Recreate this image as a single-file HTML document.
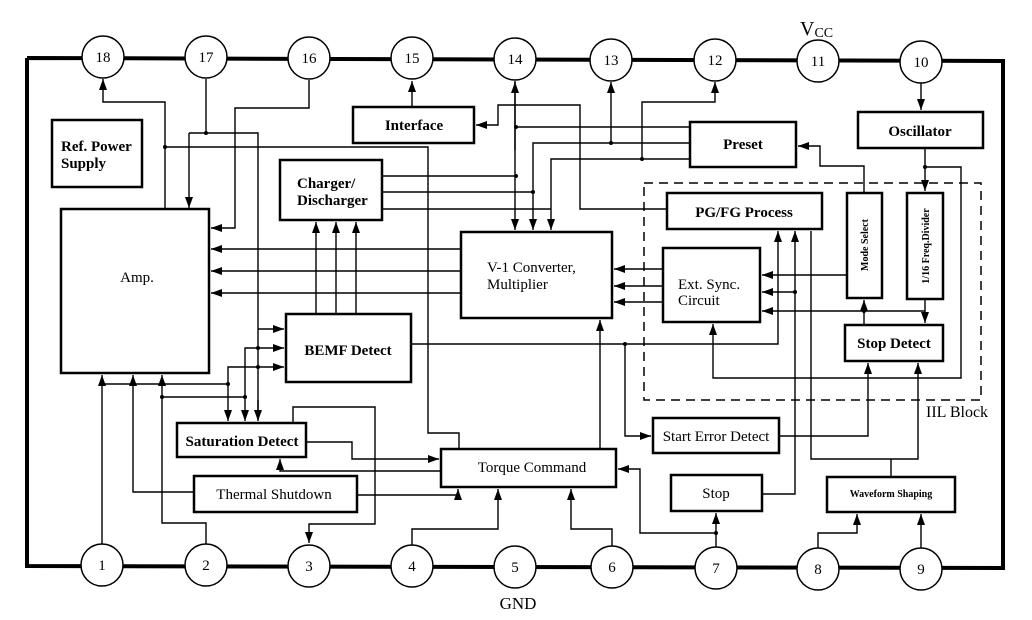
<!DOCTYPE html>
<html><head><meta charset="utf-8"><style>
html,body{margin:0;padding:0;background:#fff;}
svg{display:block;}
text{font-family:"Liberation Serif",serif;fill:#000;}
</style></head><body>
<svg width="1032" height="620" viewBox="0 0 1032 620" xmlns="http://www.w3.org/2000/svg">
<defs>
<marker id="a" markerUnits="userSpaceOnUse" markerWidth="12" markerHeight="10" refX="11" refY="5" orient="auto">
<path d="M0,1 L11,5 L0,9 z" fill="#000"/></marker>
</defs>
<!-- outer border -->
<polyline points="27,58 1003,61 1003,568 27,566 27,58" fill="none" stroke="#000" stroke-width="4"/>
<!-- pins -->
<g fill="#fff" stroke="#000" stroke-width="1.5">
<circle cx="103" cy="57" r="21"/><circle cx="206" cy="57" r="21"/><circle cx="309" cy="58" r="21"/>
<circle cx="412" cy="58" r="21"/><circle cx="515" cy="59" r="21"/><circle cx="611" cy="60" r="21"/>
<circle cx="715" cy="60" r="21"/><circle cx="818" cy="61" r="21"/><circle cx="921" cy="62" r="21"/>
<circle cx="102" cy="565" r="21"/><circle cx="206" cy="565" r="21"/><circle cx="309" cy="566" r="21"/>
<circle cx="412" cy="566" r="21"/><circle cx="515" cy="567" r="21"/><circle cx="612" cy="567" r="21"/>
<circle cx="716" cy="568" r="21"/><circle cx="818" cy="569" r="21"/><circle cx="921" cy="569" r="21"/>
</g>
<g font-size="15" text-anchor="middle">
<text x="103" y="62">18</text><text x="206" y="62">17</text><text x="309" y="63">16</text>
<text x="412" y="63">15</text><text x="515" y="64">14</text><text x="611" y="65">13</text>
<text x="715" y="65">12</text><text x="818" y="66">11</text><text x="921" y="67">10</text>
<text x="102" y="570">1</text><text x="206" y="570">2</text><text x="309" y="571">3</text>
<text x="412" y="571">4</text><text x="515" y="572">5</text><text x="612" y="572">6</text>
<text x="716" y="573">7</text><text x="818" y="574">8</text><text x="921" y="574">9</text>
</g>
<text x="800" y="35" font-size="20">V<tspan font-size="14" dy="2">CC</tspan></text>
<text x="518" y="609" font-size="17" text-anchor="middle">GND</text>
<!-- dashed IIL -->
<rect x="644" y="183" width="337" height="217" fill="none" stroke="#000" stroke-width="1.5" stroke-dasharray="9,6"/>
<text x="926" y="417" font-size="16">IIL Block</text>
<!-- boxes -->
<g fill="#fff" stroke="#000" stroke-width="2.5">
<rect x="52" y="120" width="90" height="67"/>
<rect x="61" y="209" width="148" height="164"/>
<rect x="353" y="107" width="121" height="36"/>
<rect x="280" y="160" width="102" height="60"/>
<rect x="461" y="232" width="151" height="86"/>
<rect x="690" y="122" width="106" height="45"/>
<rect x="858" y="112" width="125" height="36"/>
<rect x="667" y="193" width="155" height="36"/>
<rect x="847" y="193" width="35" height="105"/>
<rect x="907" y="193" width="36" height="106"/>
<rect x="663" y="248" width="97" height="74"/>
<rect x="845" y="325" width="98" height="36"/>
<rect x="286" y="314" width="125" height="68"/>
<rect x="177" y="423" width="129" height="34"/>
<rect x="194" y="476" width="163" height="36"/>
<rect x="441" y="449" width="175" height="38"/>
<rect x="653" y="418" width="126" height="35"/>
<rect x="671" y="475" width="91" height="36"/>
<rect x="827" y="477" width="128" height="35"/>
</g>
<g font-size="15" font-weight="bold">
<text x="61" y="151">Ref. Power</text><text x="61" y="168">Supply</text>
<text x="137" y="282" text-anchor="middle" font-weight="normal">Amp.</text>
<text x="414" y="130" text-anchor="middle">Interface</text>
<text x="297" y="188">Charger/</text><text x="297" y="205">Discharger</text>
<text x="487" y="272" font-weight="normal">V-1 Converter,</text><text x="487" y="289" font-weight="normal">Multiplier</text>
<text x="743" y="149" text-anchor="middle">Preset</text>
<text x="920" y="136" text-anchor="middle">Oscillator</text>
<text x="744" y="217" text-anchor="middle">PG/FG Process</text>
<text x="678" y="289" font-weight="normal">Ext. Sync.</text><text x="678" y="305" font-weight="normal">Circuit</text>
<text x="894" y="348" text-anchor="middle">Stop Detect</text>
<text x="348" y="355" text-anchor="middle">BEMF Detect</text>
<text x="242" y="446" text-anchor="middle">Saturation Detect</text>
<text x="274" y="499" text-anchor="middle" font-weight="normal">Thermal Shutdown</text>
<text x="532" y="472" text-anchor="middle" font-weight="normal">Torque Command</text>
<text x="716" y="441" text-anchor="middle" font-weight="normal">Start Error Detect</text>
<text x="716" y="498" text-anchor="middle" font-weight="normal">Stop</text>
</g>
<text x="891" y="497" font-size="10" font-weight="bold" text-anchor="middle">Waveform Shaping</text>
<text transform="translate(868,245) rotate(-90)" font-size="10" font-weight="bold" text-anchor="middle">Mode Select</text>
<text transform="translate(929,246) rotate(-90)" font-size="10" font-weight="bold" text-anchor="middle">1/16 Freq.Divider</text>
<!-- connectors -->
<g fill="none" stroke="#000" stroke-width="1.4">
<path d="M165,209 V102 H103 V79" marker-end="url(#a)"/>
<path d="M206,79 V133"/>
<path d="M189,133 H258 V420" />
<path d="M189,133 V208" marker-end="url(#a)"/>
<path d="M309,80 V108 H235 V228 H211" marker-end="url(#a)"/>
<path d="M165,147 H428 V433 H459 V449"/>
<path d="M461,249 H211" marker-end="url(#a)"/>
<path d="M461,271 H211" marker-end="url(#a)"/>
<path d="M461,293 H211" marker-end="url(#a)"/>
<path d="M316,314 V222" marker-end="url(#a)"/>
<path d="M336,314 V222" marker-end="url(#a)"/>
<path d="M356,314 V222" marker-end="url(#a)"/>
<path d="M382,176 H516"/>
<path d="M382,192 H533"/>
<path d="M382,209 H551"/>
<path d="M515,81 V230" marker-end="url(#a)"/>
<path d="M515,150 V82" marker-end="url(#a)"/>
<path d="M690,127 H516"/>
<path d="M690,143 H533 V230" marker-end="url(#a)"/>
<path d="M690,159 H551 V230" marker-end="url(#a)"/>
<path d="M611,143 V82" marker-end="url(#a)"/>
<path d="M642,159 V102 H715 V82" marker-end="url(#a)"/>
<path d="M412,107 V81" marker-end="url(#a)"/>
<path d="M667,209 H580 V105 H498 V125 H476" marker-end="url(#a)"/>
<path d="M663,269 H614" marker-end="url(#a)"/>
<path d="M663,286 H614" marker-end="url(#a)"/>
<path d="M663,302 H614" marker-end="url(#a)"/>
<path d="M847,275 H762" marker-end="url(#a)"/>
<path d="M795,292 H762" marker-end="url(#a)"/>
<path d="M925,311 H762" marker-end="url(#a)"/>
<path d="M864,311 V300" marker-end="url(#a)"/>
<path d="M864,325 V311"/>
<path d="M925,299 V323" marker-end="url(#a)"/>
<path d="M411,344 H778 V231" marker-end="url(#a)"/>
<path d="M762,494 H795 V231" marker-end="url(#a)"/>
<path d="M811,231 V459 H918 V363" marker-end="url(#a)" />
<path d="M891,477 V459"/>
<path d="M925,148 V191" marker-end="url(#a)"/>
<path d="M925,167 H961 V378 H713 V324" marker-end="url(#a)"/>
<path d="M864,193 V166 H820 V146 H798" marker-end="url(#a)"/>
<path d="M921,83 V110" marker-end="url(#a)"/>
<path d="M625,344 V436 H651" marker-end="url(#a)"/>
<path d="M779,436 H868 V363" marker-end="url(#a)"/>
<path d="M600,449 V320" marker-end="url(#a)"/>
<path d="M412,545 V529 H498 V489" marker-end="url(#a)"/>
<path d="M612,546 V529 H571 V489" marker-end="url(#a)"/>
<path d="M716,547 V513" marker-end="url(#a)"/>
<path d="M716,533 H640 V469 H618" marker-end="url(#a)"/>
<path d="M818,548 V533 H857 V514" marker-end="url(#a)"/>
<path d="M921,548 V514" marker-end="url(#a)"/>
<path d="M357,495 H458 V489" marker-end="url(#a)"/>
<path d="M194,492 H133 V375" marker-end="url(#a)"/>
<path d="M102,544 V375" marker-end="url(#a)"/>
<path d="M102,384 H228 V421" marker-end="url(#a)"/>
<path d="M228,384 V367 H284" marker-end="url(#a)"/>
<path d="M206,544 V523 H162 V375" marker-end="url(#a)"/>
<path d="M162,397 H245 V421" marker-end="url(#a)"/>
<path d="M245,397 V348 H284" marker-end="url(#a)"/>
<path d="M258,329 H284" marker-end="url(#a)"/>
<path d="M258,400 V421" marker-end="url(#a)"/>
<path d="M306,442 H352 V459 H439" marker-end="url(#a)"/>
<path d="M441,471 H280 V459" marker-end="url(#a)"/>
<path d="M293,423 V407 H375 V524 H309 V543" marker-end="url(#a)"/>
</g>
<g fill="#000">
<circle cx="206" cy="133" r="2"/><circle cx="165" cy="147" r="2"/>
<circle cx="516" cy="176" r="2"/><circle cx="533" cy="192" r="2"/><circle cx="516" cy="127" r="2"/>
<circle cx="611" cy="143" r="2"/><circle cx="642" cy="159" r="2"/><circle cx="795" cy="292" r="2"/>
<circle cx="864" cy="311" r="2"/><circle cx="925" cy="167" r="2"/><circle cx="625" cy="344" r="2"/>
<circle cx="102" cy="384" r="2"/><circle cx="228" cy="384" r="2"/><circle cx="162" cy="397" r="2"/>
<circle cx="245" cy="397" r="2"/><circle cx="258" cy="367" r="2"/><circle cx="258" cy="348" r="2"/>
<circle cx="716" cy="533" r="2"/>
</g>
</svg>
</body></html>
